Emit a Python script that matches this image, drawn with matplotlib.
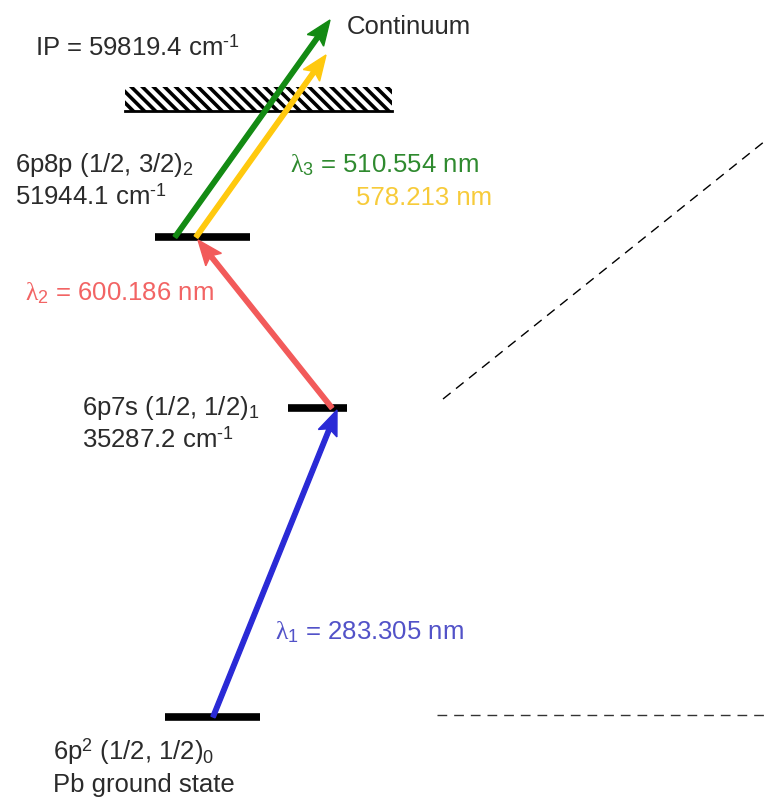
import matplotlib
matplotlib.use("Agg")
import matplotlib.pyplot as plt
from matplotlib.patches import Rectangle

plt.rcParams["font.family"] = ["Liberation Sans", "DejaVu Sans"]
plt.rcParams["mathtext.fontset"] = "custom"
plt.rcParams["mathtext.rm"] = "Liberation Sans"
plt.rcParams["mathtext.it"] = "Liberation Serif"
plt.rcParams["mathtext.sf"] = "Liberation Sans"
plt.rcParams["hatch.linewidth"] = 2.6

# Pb three-step resonance ionization scheme
level_configs = ["6p$^2$ (1/2, 1/2)$_0$", "6p7s (1/2, 1/2)$_1$", "6p8p (1/2, 3/2)$_2$"]
level_energies = [0.0, 35287.2, 51944.1]          # cm^-1
ionization_potential = 59819.4                     # cm^-1
step_wavelengths = [283.305, 600.186]              # nm, lambda_1 and lambda_2
ionizing_wavelengths = [510.554, 578.213]          # nm, lambda_3 options
step_colors = ["#2a2ad6", "#f25a5a"]
step_text_colors = ["#5252c8", "#f26464"]
ionizing_colors = ["#138a13", "#ffc90e"]
ionizing_text_colors = ["#2f8a2f", "#f7cb3a"]

W, H = 765, 802
fig = plt.figure(figsize=(W / 100, H / 100), dpi=100)
ax = fig.add_axes([0, 0, 1, 1])
ax.set_xlim(0, W)
ax.set_ylim(H, 0)
ax.axis("off")

# schematic layout (drawing coordinates)
level_y = [717, 408, 237]
level_x = [(165, 260), (288, 347), (155, 250)]
ip_y = 111
ip_x = (125, 392)

FS = 18.5
TXT = "#2b2b2b"
INV_CM = "cm$^{\\text{-}1}$"

# energy levels
for (x0, x1), y in zip(level_x, level_y):
    ax.plot([x0, x1], [y, y], color="black", lw=5.5, solid_capstyle="butt", zorder=3)

# ionization limit with hatched continuum
ax.add_patch(Rectangle((ip_x[0], ip_y - 24), ip_x[1] - ip_x[0], 24,
                       facecolor="white", edgecolor="black", hatch="\\\\\\",
                       lw=0, zorder=1))
ax.plot(ip_x, [ip_y, ip_y], color="black", lw=2, zorder=2)

arrow_kw = dict(length_includes_head=True, width=4.5, head_width=20,
                head_length=25, overhang=0.15, zorder=4)

# lambda_1: ground -> 6p7s
ax.arrow(213, level_y[0], 337 - 213, level_y[1] + 2 - level_y[0],
         color=step_colors[0], **arrow_kw)
# lambda_2: 6p7s -> 6p8p
ax.arrow(332, level_y[1], 198 - 332, level_y[2] + 3 - level_y[1],
         color=step_colors[1], **arrow_kw)
# lambda_3: 6p8p -> continuum (two options)
ax.arrow(175, level_y[2], 330 - 175, 20 - level_y[2],
         color=ionizing_colors[0], **arrow_kw)
ax.arrow(196, level_y[2], 326 - 196, 55 - level_y[2],
         color=ionizing_colors[1], **arrow_kw)

def label(x, y, s, color=TXT, ha="left"):
    ax.text(x, y, s, fontsize=FS, color=color, ha=ha, va="center", zorder=5)

label(35, 48, f"IP = {ionization_potential:.1f} " + INV_CM)
label(347, 27, "Continuum")

label(15, 165, level_configs[2])
label(15, 197, f"{level_energies[2]:.1f} " + INV_CM)
label(82, 408, level_configs[1])
label(82, 440, f"{level_energies[1]:.1f} " + INV_CM)
label(53, 752, level_configs[0])
label(53, 785, "Pb ground state")

label(290, 165, f"$\\lambda_3$ = {ionizing_wavelengths[0]:.3f} nm",
      color=ionizing_text_colors[0])
label(492, 198, f"{ionizing_wavelengths[1]:.3f} nm",
      color=ionizing_text_colors[1], ha="right")
label(25, 293, f"$\\lambda_2$ = {step_wavelengths[1]:.3f} nm",
      color=step_text_colors[1])
label(275, 632, f"$\\lambda_1$ = {step_wavelengths[0]:.3f} nm",
      color=step_text_colors[0])

# guide lines toward the right
ax.plot([443, 765], [399, 141], color="black", lw=1, ls=(0, (7, 5)), zorder=1)
ax.plot([437, 765], [715, 715], color="#333333", lw=1, ls=(0, (7, 5)), zorder=1)

fig.savefig("out.png", dpi=100)
